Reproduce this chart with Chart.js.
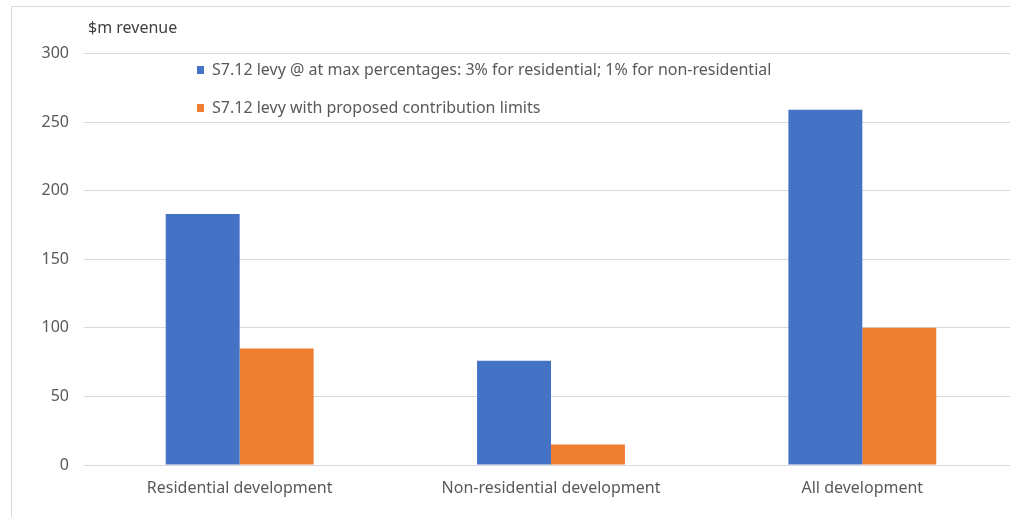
<!DOCTYPE html>
<html>
<head>
<meta charset="utf-8">
<script src="https://cdn.jsdelivr.net/npm/chart.js@4"></script>
<style>
  html, body { margin: 0; padding: 0; background: #fff; overflow: hidden; }
  body { width: 1010px; height: 517px; position: relative; font-family: "Noto Sans", sans-serif; }
  #frame {
    position: absolute; left: 11px; top: 6px; width: 1100px; height: 600px;
    border-left: 1px solid #d9d9d9; border-top: 1px solid #d9d9d9;
  }
  #wrap { position: absolute; left: 12px; top: 7px; width: 1006px; height: 510px; }
  #ytitle { position: absolute; left: 88px; top: 16px; font-size: 16px; color: #404040; }
  #legend { position: absolute; left: 197px; top: 58px; font-size: 16px; color: #595959; }
  #legend div { height: 38px; line-height: 23px; white-space: nowrap; }
  #legend span.box { display: inline-block; width: 7px; height: 8px; margin-right: 8px; vertical-align: 1px; }
</style>
</head>
<body>
<div id="frame"></div>
<div id="wrap"><canvas id="chartLevy"></canvas></div>
<div id="ytitle">$m revenue</div>
<div id="legend"></div>
<script>
const categorias = ['Residential development', 'Non-residential development', 'All development']
const nombresSeries = [
    'S7.12 levy @ at max percentages: 3% for residential; 1% for non-residential',
    'S7.12 levy with proposed contribution limits'
]
const levyMax = [183, 76, 259]
const levyLimites = [85, 15, 100]
const colores = ['#4472C4', '#ED7D31']
const ticksY = [0, 50, 100, 150, 200, 250, 300]

const context = document.getElementById('chartLevy').getContext('2d')

const chartLevy = new Chart(context, {
    type : 'bar',
    data : {
        labels : categorias,
        datasets : [
            { label : nombresSeries[0], data : levyMax, backgroundColor : colores[0] },
            { label : nombresSeries[1], data : levyLimites, backgroundColor : colores[1] }
        ]
    },
    options : {
        responsive : true,
        maintainAspectRatio : false,
        animation : false,
        datasets : { bar : { barPercentage : 1, categoryPercentage : 0.475 } },
        layout : { padding : { top : 46.5, right : 0, left : 0, bottom : 0 } },
        plugins : {
            legend : { display : false },
            tooltip : { enabled : false }
        },
        scales : {
            x : {
                grid : { display : false, drawTicks : false },
                border : { color : '#d9d9d9' },
                ticks : { color : '#595959', font : { family : 'Noto Sans', size : 16 }, padding : 14 },
                afterFit : (scale) => { scale.height = 52 }
            },
            y : {
                min : 0,
                max : 300,
                afterBuildTicks : (scale) => { scale.ticks = ticksY.map(v => ({ value : v })) },
                grid : { color : '#d9d9d9', drawTicks : false },
                border : { display : false },
                ticks : { color : '#595959', font : { family : 'Noto Sans', size : 16 }, padding : 15 },
                afterFit : (scale) => { scale.width = 72 }
            }
        }
    }
})

// leyenda armada con los mismos datasets
const legend = document.getElementById('legend')
chartLevy.data.datasets.forEach(ds => {
    const fila = document.createElement('div')
    const caja = document.createElement('span')
    caja.className = 'box'
    caja.style.background = ds.backgroundColor
    fila.appendChild(caja)
    fila.appendChild(document.createTextNode(ds.label))
    legend.appendChild(fila)
})
</script>
</body>
</html>
